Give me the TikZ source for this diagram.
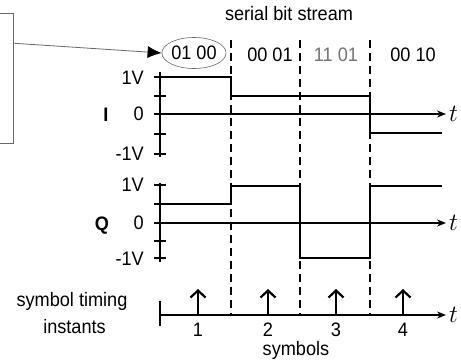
\documentclass[tikz,border=0pt]{standalone}
\usepackage{fontspec}
\setmainfont{Liberation Sans}[FakeStretch=0.93]
\usetikzlibrary{positioning,arrows.meta,shapes.geometric}
\definecolor{notegray}{RGB}{105,105,105}
\definecolor{bitgray}{RGB}{115,115,115}
\tikzset{
  lbl/.style     = {inner sep=0pt, font=\fontsize{19.5}{27}\selectfont},
  tlbl/.style    = {inner sep=0pt, font=\fontsize{23}{27}\selectfont},
  axis/.style    = {line width=1.6pt, -{Stealth[length=9pt,width=7pt]}},
  vtick/.style   = {line width=1.4pt},
  wave/.style    = {line width=2.6pt, line join=miter},
  bound/.style   = {line width=2pt, dash pattern=on 8pt off 5pt},
  instant/.style = {line width=2.2pt, -{Straight Barb[length=7pt,width=15pt]}},
  pointer/.style = {draw=notegray, line width=0.8pt, -{Latex[length=14pt,width=12pt,color=black]}},
}

\begin{document}
\begin{tikzpicture}[x=1pt,y=-1pt]
  \useasboundingbox (0,0) rectangle (461,364);

  % symbol boundaries
  \foreach \x in {231,300,370}
    \draw[bound] (\x,40) -- (\x,315);

  % note box and the bit stream
  \node[draw=notegray, line width=0.9pt, minimum width=60pt, minimum height=130pt,
        anchor=north east] (note) at (14.3,12.7) {};
  \node[lbl] (title) at (289,14) {serial bit stream};
  \node[lbl, ellipse, draw=notegray, line width=0.6pt, inner sep=0pt,
        minimum width=59pt, minimum height=31pt] (bits1) at (194,53) {01 00};
  \node[lbl] (bits2) at (270,55) {00 01};
  \node[lbl, text=bitgray] (bits3) at (336,55) {11 01};
  \node[lbl] (bits4) at (413,55) {00 10};
  \draw[pointer] ([yshift=-30.6pt]note.north east) -- (bits1.west);

  % I channel
  \coordinate (Io) at (160,114);
  \coordinate (Iend) at (446,114);
  \draw[line width=1.8pt] (160,72) -- (160,157);
  \foreach \y in {77,96,114,134,154}
    \draw[vtick] (154,\y) -- (166,\y);
  \draw[axis] (Io) -- (Iend);
  \node[tlbl, right=3pt of Iend] (tI) {$t$};
  \node[lbl, anchor=east] (Ihi) at (144,78) {1V};
  \node[lbl, anchor=east] (Izero) at (144,114) {0};
  \node[lbl, anchor=east] (Ilo) at (144,154) {-1V};
  \node[lbl, font=\fontsize{19.5}{27}\selectfont\bfseries] (Iname) at (106,115) {I};
  \draw[wave] (160,77) -- (231,77) -- (231,96) -- (370,96) -- (370,133) -- (442,133);

  % Q channel
  \coordinate (Qo) at (160,223);
  \coordinate (Qend) at (446,223);
  \draw[line width=1.8pt] (160,183) -- (160,262);
  \foreach \y in {185,204,223,241,258}
    \draw[vtick] (154,\y) -- (166,\y);
  \draw[axis] (Qo) -- (Qend);
  \node[tlbl, right=3pt of Qend] (tQ) {$t$};
  \node[lbl, anchor=east] (Qhi) at (144,185) {1V};
  \node[lbl, anchor=east] (Qzero) at (144,223) {0};
  \node[lbl, anchor=east] (Qlo) at (144,259) {-1V};
  \node[lbl, font=\fontsize{19.5}{27}\selectfont\bfseries] (Qname) at (102,226) {Q};
  \draw[wave] (160,204) -- (231,204) -- (231,186) -- (300,186) -- (300,258)
    -- (370,258) -- (370,186) -- (442,186);

  % symbol timing
  \coordinate (So) at (160,315);
  \coordinate (Send) at (446,315);
  \draw[line width=1.8pt] (160,301) -- (160,326);
  \draw[axis] (So) -- (Send);
  \node[tlbl, right=3pt of Send] (tS) {$t$};
  \node[lbl, align=center] (timing) at (72,313) {symbol timing\\\ instants};
  \foreach \x/\n in {198/1,268/2,336/3,403/4} {
    \coordinate (s\n) at (\x,315);
    \draw[instant] (s\n) -- ++(0,-26);
    \node[lbl, below=8pt of s\n] (num\n) {\n};
  }
  \node[lbl] (symbols) at (296,350) {symbols};
\end{tikzpicture}
\end{document}
